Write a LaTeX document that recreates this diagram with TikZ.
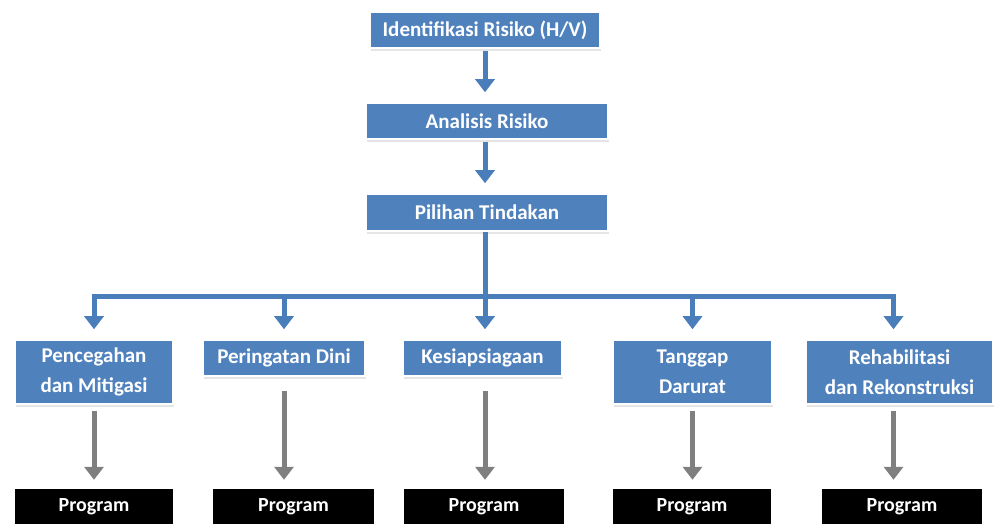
\documentclass[tikz,border=0pt]{standalone}
\usepackage{fontspec}
\setmainfont{Carlito}
\usepackage{xcolor}
\usepackage{tikz}
\usetikzlibrary{arrows.meta, positioning, calc, shadows}

\definecolor{boxblue}{HTML}{4F81BD}
\definecolor{lineblue}{HTML}{4A7EBB}
\definecolor{linegray}{HTML}{7F7F7F}

\begin{document}
\begin{tikzpicture}[x=1pt, y=-1pt,
    stage/.style={rectangle, fill=boxblue, draw=white, line width=1.5pt, text=white,
        font=\fontsize{21}{30}\selectfont\bfseries, align=center, inner sep=0pt,
        drop shadow={shadow xshift=1pt, shadow yshift=-3pt, fill=gray!40}},
    prog/.style={rectangle, fill=black, text=white, minimum width=160pt, minimum height=35pt,
        font=\fontsize{20}{24}\selectfont\bfseries, inner sep=0pt},
    bline/.style={draw=lineblue, line width=5pt},
    barrow/.style={bline, -{Triangle[width=19pt,length=13pt]}},
    garrow/.style={draw=linegray, line width=5pt, -{Triangle[width=19pt,length=13pt]}}]
    \useasboundingbox (0,0) rectangle (996,529);

    % Top chain
    \node[stage, minimum width=230pt, minimum height=36pt] (ident) at (485,30) {Identifikasi Risiko (H/V)};
    \node[stage, minimum width=242pt, minimum height=36pt] (anal) at (487,121) {Analisis Risiko};
    \node[stage, minimum width=242pt, minimum height=37pt] (pilih) at (487,212.5) {Pilihan Tindakan};

    \draw[barrow, shorten <=2pt, shorten >=10pt] (ident.south -| ident) -- (ident.south |- anal.north);
    \draw[barrow, shorten <=2pt, shorten >=10pt] (ident.south |- anal.south) -- (ident.south |- pilih.north);

    % Actions
    \node[stage, minimum width=158pt, minimum height=64pt] (cegah) at (94,372) {Pencegahan\\dan Mitigasi};
    \node[stage, minimum width=162pt, minimum height=36pt] (dini) at (284,358) {Peringatan Dini};
    \node[stage, minimum width=159pt, minimum height=36pt] (siaga) at (482.5,358) {Kesiapsiagaan};
    \node[stage, minimum width=159pt, minimum height=64pt] (darurat) at (692.5,372) {Tanggap\\Darurat};
    \node[stage, minimum width=187pt, minimum height=64pt] (rehab) at (899.5,372) {Rehabilitasi\\dan Rekonstruksi};

    % Bus line
    \coordinate (bus) at (485,297);
    \draw[bline] (pilih.south -| bus) -- (bus);
    \draw[bline, line cap=rect] (bus -| cegah) -- ([xshift=-6pt]bus -| rehab);
    \draw[barrow, shorten >=10pt] (bus -| cegah) -- (cegah.north);
    \draw[barrow, shorten >=10pt] (bus -| dini) -- (dini.north);
    \draw[barrow, shorten >=10pt] (bus) -- (bus |- siaga.north);
    \draw[barrow, shorten >=10pt] (bus -| darurat) -- (darurat.north);
    \draw[barrow, shorten >=10pt] ([xshift=-6pt]bus -| rehab) -- ([xshift=-6pt]rehab.north);

    % Programs
    \node[prog, minimum width=158pt] (p1) at (94,506.5) {Program};
    \node[prog, minimum width=161pt] (p2) at (293.5,506.5) {Program};
    \node[prog] (p3) at (484,506.5) {Program};
    \node[prog, minimum width=158pt] (p4) at (692,506.5) {Program};
    \node[prog] (p5) at (902,506.5) {Program};

    \draw[garrow, shorten <=6pt, shorten >=9pt] (cegah.south) -- (cegah.south |- p1.north);
    \draw[garrow, shorten <=14pt, shorten >=9pt] (dini.south) -- (dini.south |- p2.north);
    \draw[garrow, shorten <=14pt, shorten >=9pt] (bus |- siaga.south) -- (bus |- p3.north);
    \draw[garrow, shorten <=6pt, shorten >=9pt] (darurat.south) -- (darurat.south |- p4.north);
    \draw[garrow, shorten <=6pt, shorten >=9pt] ([xshift=-6pt]rehab.south) -- ([xshift=-6pt]rehab.south |- p5.north);
\end{tikzpicture}
\end{document}
